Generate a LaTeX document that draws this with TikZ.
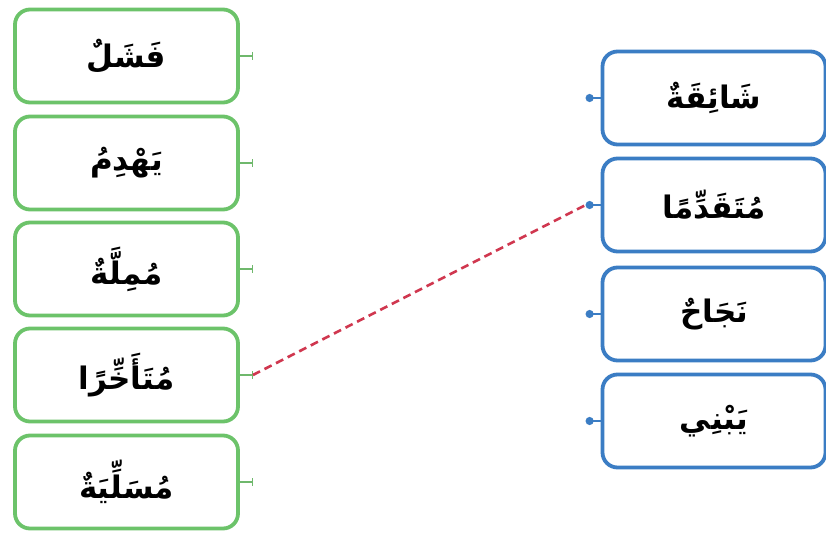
\documentclass[tikz,border=0pt]{standalone}
\usepackage{fontspec}
\usetikzlibrary{arrows.meta}
\newfontfamily\arabicfont[Script=Arabic]{DejaVu Sans}
\TeXXeTstate=1
\definecolor{gbox}{HTML}{6CC36A}
\definecolor{gstubc}{HTML}{6FB86C}
\definecolor{bbox}{HTML}{3B7DC4}
\definecolor{dashred}{HTML}{D0374F}
\begin{document}
\begin{tikzpicture}[x=1pt,y=-1pt,
  wordbox/.style={line width=3.8pt, rounded corners=15pt, minimum width=223pt, minimum height=93pt, inner sep=0pt, font=\arabicfont\bfseries\fontsize{31}{36}\selectfont, fill=white},
  gword/.style={wordbox, draw=gbox},
  bword/.style={wordbox, draw=bbox},
  gstub/.style={draw=gstubc, line width=1.4pt, -{Bar[width=8pt,line width=1.4pt]}},
  bstub/.style={draw=bbox, line width=2pt, {Circle[length=8pt]}-},
  matchline/.style={draw=dashred, line width=2.6pt, dash pattern=on 8pt off 5pt}]
\useasboundingbox (0,0) rectangle (826,532);
\fill[white] (0,0) rectangle (826,532);
% left column
\node[gword] (g1) at (126.5,56) {\beginR فَشَلٌ\endR};
\node[gword] (g2) at (126.5,163) {\beginR يَهْدِمُ\endR};
\node[gword] (g3) at (126.5,269) {\beginR مُمِلَّةٌ\endR};
\node[gword] (g4) at (126.5,375) {\beginR مُتَأَخِّرًا\endR};
\node[gword] (g5) at (126.5,482) {\beginR مُسَلِّيَةٌ\endR};
% right column
\node[bword] (b1) at (714,98) {\beginR شَائِقَةٌ\endR};
\node[bword] (b2) at (714,205) {\beginR مُتَقَدِّمًا\endR};
\node[bword] (b3) at (714,314) {\beginR نَجَاحٌ\endR};
\node[bword] (b4) at (714,421) {\beginR يَبْنِي\endR};
% stubs
\foreach \i in {1,...,5} {
  \coordinate (g\i e) at ([xshift=13pt]g\i.east);
  \draw[gstub] (g\i.east) -- (g\i e);
}
\foreach \i in {1,...,4} {
  \coordinate (b\i d) at ([xshift=-15pt]b\i.west);
  \draw[bstub] (b\i d) -- (b\i.west);
}
% match
\draw[matchline] (g4e) -- (b2d);
\end{tikzpicture}
\end{document}
